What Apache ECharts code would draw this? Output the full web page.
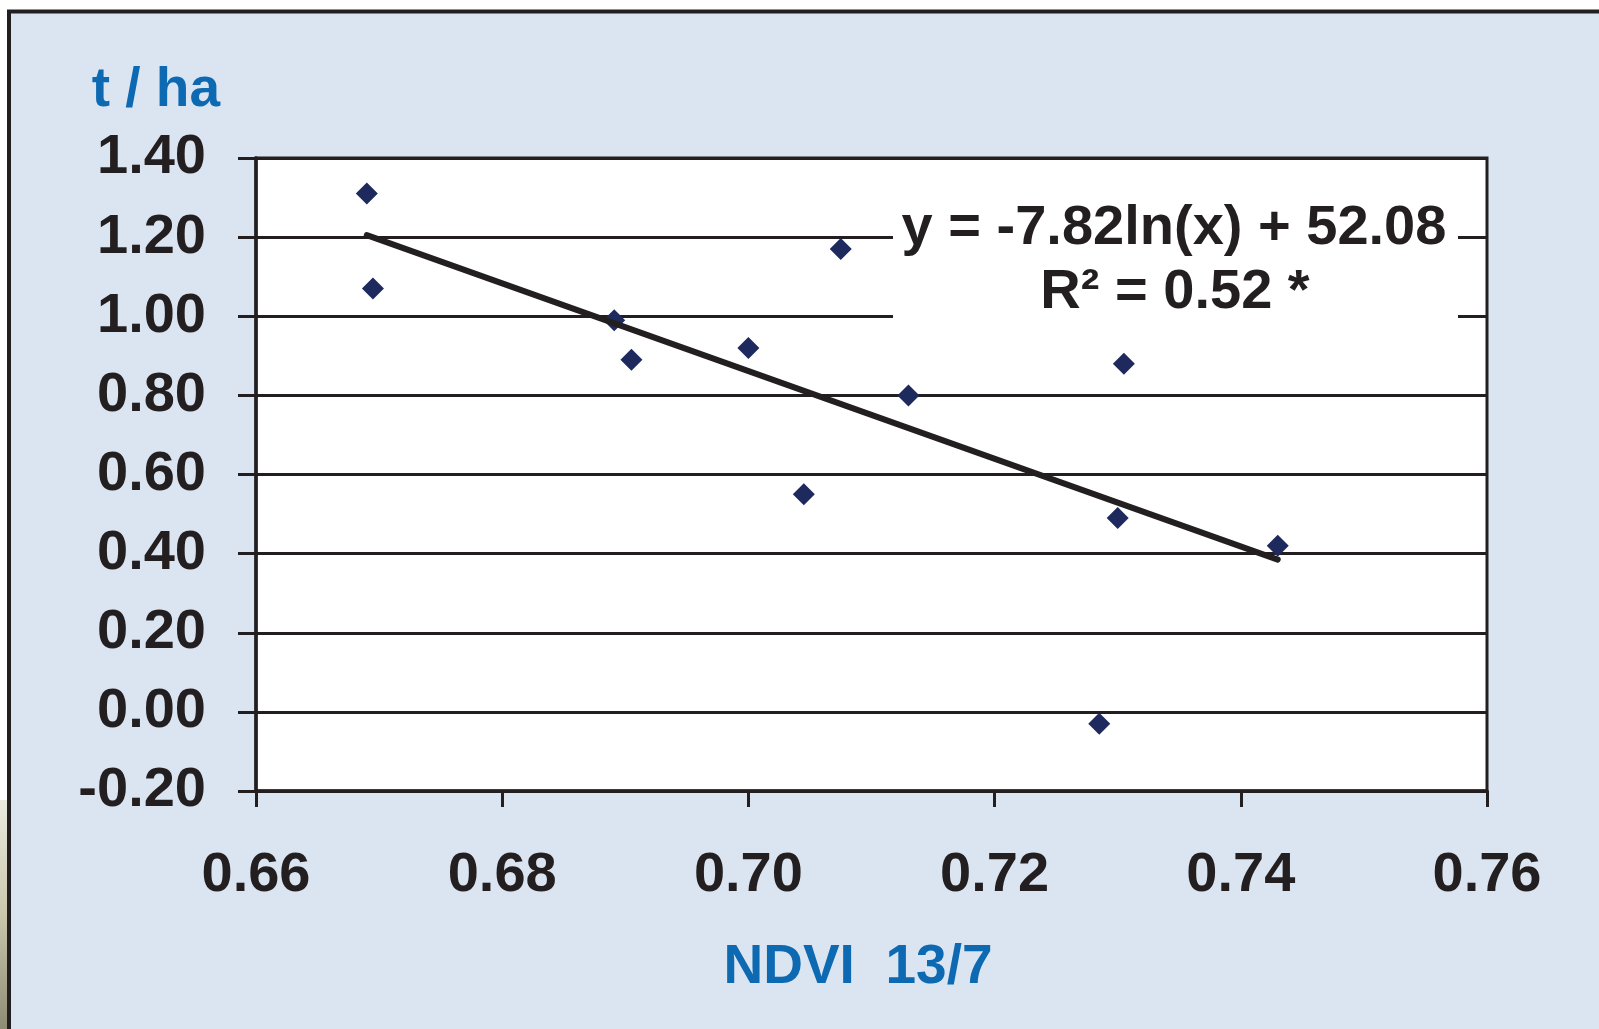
<!DOCTYPE html>
<html>
<head>
<meta charset="utf-8">
<script src="https://cdn.jsdelivr.net/npm/echarts@6/dist/echarts.min.js"></script>
<style>
html,body{margin:0;padding:0;background:#ffffff;}
#chart{width:1599px;height:1029px;}
</style>
</head>
<body>
<div id="chart"></div>
<script>
// NDVI values (x) and yield in t/ha (y)
const ndvi  = [0.6690, 0.6695, 0.6891, 0.6905, 0.7000, 0.7045, 0.7075, 0.7130, 0.7285, 0.7300, 0.7305, 0.7430];
const yieldT = [1.31,  1.07,   0.99,   0.89,   0.92,   0.55,   1.17,   0.80,  -0.03,   0.49,   0.88,   0.42];
// trend line (start, end)
const trendX = [0.669, 0.743];
const trendY = [1.205, 0.385];
const yTicks = [-0.2, 0.0, 0.2, 0.4, 0.6, 0.8, 1.0, 1.2, 1.4];
const xTicks = [0.66, 0.68, 0.70, 0.72, 0.74, 0.76];
const eqLine1 = 'y = -7.82ln(x) + 52.08';
const eqLine2 = 'R² = 0.52 *';
const yName = 't / ha';
const xName = 'NDVI  13/7';

const FONT = '"Liberation Sans", Arial, sans-serif';
const INK = '#231f20';
const BLUE = '#0d69b2';

const chart = echarts.init(document.getElementById('chart'), null, {renderer: 'canvas'});
chart.setOption({
  backgroundColor: '#ffffff',
  animation: false,
  grid: {
    left: 256, right: 112, top: 158, bottom: 238,
    show: true, backgroundColor: '#ffffff', borderColor: INK, borderWidth: 3
  },
  xAxis: {
    type: 'value',
    min: xTicks[0], max: xTicks[xTicks.length - 1], interval: 0.02,
    name: xName, nameLocation: 'middle', nameGap: 149,
    nameTextStyle: {color: BLUE, fontFamily: FONT, fontWeight: 'bold', fontSize: 55, padding: [0, 27, 0, 0]},
    axisLine: {show: true, onZero: false, lineStyle: {color: INK, width: 3.5}},
    axisTick: {show: true, inside: false, length: 16, lineStyle: {color: INK, width: 3}},
    axisLabel: {color: INK, fontFamily: FONT, fontWeight: 'bold', fontSize: 56, margin: 57,
      formatter: v => v.toFixed(2)},
    splitLine: {show: false}
  },
  yAxis: {
    type: 'value',
    min: yTicks[0], max: yTicks[yTicks.length - 1], interval: 0.2,
    name: yName, nameLocation: 'end', nameGap: 40,
    nameTextStyle: {color: BLUE, fontFamily: FONT, fontWeight: 'bold', fontSize: 55, align: 'right', padding: [0, 36, 0, 0]},
    axisLine: {show: true, onZero: false, lineStyle: {color: INK, width: 3.5}},
    axisTick: {show: true, inside: false, length: 18, lineStyle: {color: INK, width: 3}},
    axisLabel: {color: INK, fontFamily: FONT, fontWeight: 'bold', fontSize: 56, margin: 50,
      formatter: v => v.toFixed(2)},
    splitLine: {show: true, lineStyle: {color: INK, width: 3}}
  },
  graphic: [
    {type: 'rect', z: -10, silent: true,
      shape: {x: 9, y: 11.5, width: 1600, height: 1040},
      style: {fill: '#dbe5f1', stroke: INK, lineWidth: 4}},
    {type: 'rect', z: -10, silent: true,
      shape: {x: 0, y: 800, width: 7, height: 229},
      style: {fill: new echarts.graphic.LinearGradient(0, 0, 0, 1, [
        {offset: 0, color: '#ecebe0'}, {offset: 0.5, color: '#c9c7ac'}, {offset: 1, color: '#8d8b73'}])}},
    {type: 'rect', z: 100, silent: true,
      shape: {x: 893, y: 192, width: 565, height: 142},
      style: {fill: '#ffffff'}},
    {type: 'text', z: 101, silent: true, x: 1174, y: 229,
      style: {text: eqLine1, fill: INK, font: 'bold 56px ' + FONT, textAlign: 'center', textVerticalAlign: 'middle'}},
    {type: 'text', z: 101, silent: true, x: 1175, y: 293,
      style: {text: eqLine2, fill: INK, font: 'bold 56px ' + FONT, textAlign: 'center', textVerticalAlign: 'middle'}}
  ],
  series: [
    {
      type: 'scatter',
      symbol: 'diamond',
      symbolSize: 22,
      itemStyle: {color: '#1e2a5e', opacity: 1},
      data: ndvi.map((x, i) => [x, yieldT[i]]),
      z: 3
    },
    {
      type: 'line',
      showSymbol: false,
      symbol: 'none',
      lineStyle: {color: INK, width: 6, opacity: 1, cap: 'round'},
      data: trendX.map((x, i) => [x, trendY[i]]),
      z: 4
    }
  ]
});
</script>
</body>
</html>
